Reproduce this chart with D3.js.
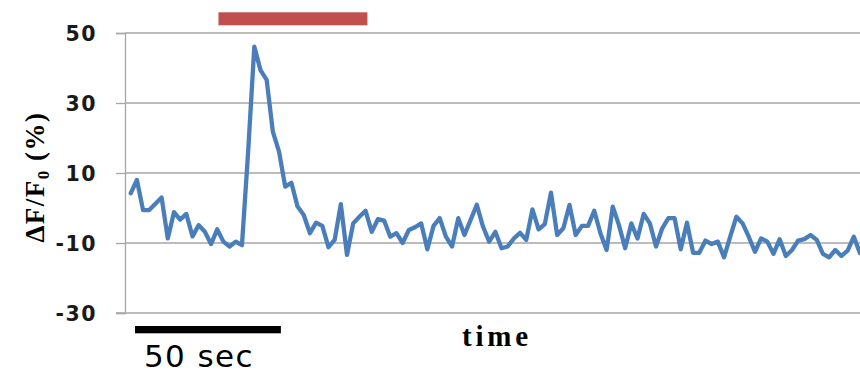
<!DOCTYPE html>
<html>
<head>
<meta charset="utf-8">
<script src="https://cdn.jsdelivr.net/npm/d3@7"></script>
<style>
  html, body { margin: 0; padding: 0; background: #fff; }
  svg { display: block; }
</style>
</head>
<body>
<svg id="chart" width="860" height="374"></svg>
<script>
// ---- data ----
const yTicks = [-30, -10, 10, 30, 50];
const values = [
  4.2, 8.0, -0.6, -0.6, 1.2, 3.0, -8.7, -1.2, -3.3, -1.7, -8.1, -4.9, -6.8, -10.3, -6.1, -9.6, -11.0, -9.6, -10.6,
  16, 46.1,
  39.4, 36.6, 21.8, 16.1, 6.1, 7.2, 0.4, -2.0, -7.2, -4.2, -5.1, -11.2, -9.1, 1.1, -13.4, -4.4, -2.5, -0.8, -6.8, -3.2,
  -3.6, -8.2, -7.2, -10, -6.3, -5.5, -4.4, -11.8, -5.1, -2.9, -8.2, -11, -2.9, -7.7, -3.4, 0.9, -5.3, -9.6, -6.8, -11.5,
  -11, -8.7, -7.1, -9.1, -0.4, -6.1, -4.6, 4.4, -7.7, -5.8, 0.9, -7.7, -5.1, -5.1, -0.8, -7.2, -12, 0.4, -4.9,
  -11.5, -4.4, -8.7, -1.7, -4.4, -11, -5.8, -2.9, -2.9, -11.8, -4.2, -12.8, -12.8, -9.3, -10.3, -9.6, -14.1, -8.2, -2.5, -4.4,
  -8.2, -12.5, -8.7, -9.6, -13.1, -8.9, -13.7, -12, -9.3, -8.9, -7.7, -9.1, -13.1, -14.1, -12, -13.7, -12.2, -8.2, -12.9
];
const stimulus = [14.2, 38.3];      // sample-index span of the stimulus bar
const scaleBar = [0.7, 24.3];       // sample-index span equal to 50 sec
const scaleBarLabel = "50 sec";
const xLabel = "time";

// ---- layout ----
const svg = d3.select("#chart");
const axisX = 125, plotTop = 33, plotBottom = 313, plotRight = 860;

const x = d3.scaleLinear().domain([0, values.length - 1]).range([130.7, 860]);
const y = d3.scaleLinear().domain([-30, 50]).range([plotBottom, plotTop]);

// gridlines
svg.append("g").selectAll("line").data(yTicks.filter(t => t > -30)).join("line")
  .attr("x1", axisX).attr("x2", plotRight)
  .attr("y1", d => y(d)).attr("y2", d => y(d))
  .attr("stroke", "#a6a6a6").attr("stroke-width", 1.3);

// y axis via d3.axisLeft
const yAxis = d3.axisLeft(y).tickValues(yTicks).tickSize(9).tickPadding(19).tickFormat(d => String(d));
const gy = svg.append("g").attr("transform", `translate(${axisX},0)`).call(yAxis);
gy.select(".domain").attr("stroke", "#a6a6a6").attr("stroke-width", 1.3);
gy.selectAll(".tick line").attr("stroke", "#a6a6a6").attr("stroke-width", 1.3);
gy.selectAll(".tick text")
  .attr("font-family", "DejaVu Sans").attr("font-weight", "bold")
  .attr("font-size", 20.5).attr("letter-spacing", 1.5).attr("fill", "#1a1a1a")
  .attr("dy", "0.36em");

// bottom axis line
svg.append("line").attr("x1", 116).attr("x2", plotRight)
  .attr("y1", plotBottom).attr("y2", plotBottom)
  .attr("stroke", "#a6a6a6").attr("stroke-width", 1.3);

// data line
svg.append("path").datum(values)
  .attr("fill", "none").attr("stroke", "#4a7ebb").attr("stroke-width", 4.3)
  .attr("stroke-linejoin", "round").attr("stroke-linecap", "round")
  .attr("d", d3.line().x((d, i) => x(i)).y(d => y(d)));

// stimulus bar
svg.append("rect")
  .attr("x", x(stimulus[0])).attr("width", x(stimulus[1]) - x(stimulus[0]))
  .attr("y", 12.3).attr("height", 13)
  .attr("fill", "#c0504d");

// scale bar
svg.append("rect")
  .attr("x", x(scaleBar[0])).attr("width", x(scaleBar[1]) - x(scaleBar[0]))
  .attr("y", 326).attr("height", 7.3).attr("fill", "#000");
svg.append("text").attr("x", 144).attr("y", 366.5)
  .attr("font-family", "DejaVu Sans").attr("font-size", 31).attr("letter-spacing", 1.4)
  .attr("fill", "#000").text(scaleBarLabel);

// x label
svg.append("text").attr("x", 462).attr("y", 346)
  .attr("font-family", "Liberation Serif").attr("font-weight", "bold")
  .attr("font-size", 29).attr("letter-spacing", 3.8)
  .attr("fill", "#000").text(xLabel);

// y label
const yl = svg.append("text")
  .attr("transform", "translate(44,177) rotate(-90)")
  .attr("text-anchor", "middle")
  .attr("font-family", "Liberation Serif").attr("font-weight", "bold")
  .attr("font-size", 27).attr("letter-spacing", 1.5).attr("fill", "#000");
yl.append("tspan").text("ΔF/F");
yl.append("tspan").attr("font-size", 17).attr("dy", 5).text("0");
yl.append("tspan").attr("dy", -5).text(" (%)");
</script>
</body>
</html>
